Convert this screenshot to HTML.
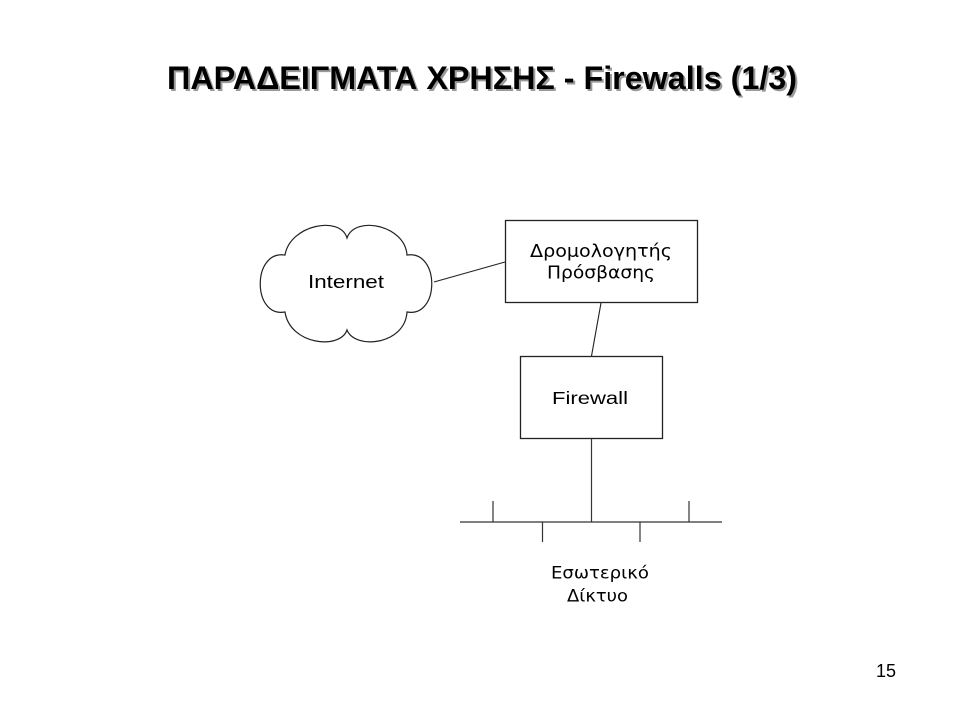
<!DOCTYPE html>
<html>
<head>
<meta charset="utf-8">
<style>
  html, body { margin: 0; padding: 0; background: #ffffff; }
  body { width: 960px; height: 720px; overflow: hidden; }
  svg { display: block; }
  .title { font-family: "Liberation Sans", "DejaVu Sans", sans-serif; font-weight: bold; font-size: 32px; }
  .lab { font-family: "Liberation Sans", "DejaVu Sans", sans-serif; fill: #000; }
  .gr { font-family: "DejaVu Sans", "Liberation Sans", sans-serif; fill: #000; }
</style>
</head>
<body>
<svg width="960" height="720" viewBox="0 0 960 720" xmlns="http://www.w3.org/2000/svg">
  <rect x="0" y="0" width="960" height="720" fill="#ffffff"/>

  <!-- Title with shadow -->
  <text class="title" x="169" y="91" fill="#9a9a9a" textLength="630" lengthAdjust="spacingAndGlyphs">ΠΑΡΑΔΕΙΓΜΑΤΑ ΧΡΗΣΗΣ - Firewalls (1/3)</text>
  <text class="title" x="167" y="89" fill="#000000" textLength="630" lengthAdjust="spacingAndGlyphs">ΠΑΡΑΔΕΙΓΜΑΤΑ ΧΡΗΣΗΣ - Firewalls (1/3)</text>

  <!-- Cloud -->
  <path d="M 285,255
           C 290,225 340,215 347,238
           C 355,215 405,225 407,255
           C 440,250 440,318 407,312
           C 405,345 355,350 347,330
           C 340,350 290,345 285,312
           C 252,318 252,250 285,255 Z"
        fill="#ffffff" stroke="#222" stroke-width="1.2"/>
  <text class="lab" x="308" y="288" font-size="18.5" textLength="76" lengthAdjust="spacingAndGlyphs">Internet</text>

  <!-- Internet to router line -->
  <line x1="434" y1="282" x2="505" y2="262" stroke="#222" stroke-width="1.1"/>

  <!-- Router box -->
  <rect x="505.5" y="220.5" width="192" height="82" fill="#ffffff" stroke="#222" stroke-width="1.3"/>
  <text class="gr" x="530" y="257" font-size="18" textLength="142" lengthAdjust="spacingAndGlyphs">Δρομολογητής</text>
  <text class="gr" x="547" y="278.5" font-size="18" textLength="108" lengthAdjust="spacingAndGlyphs">Πρόσβασης</text>

  <!-- Router to firewall line -->
  <line x1="601" y1="303" x2="591.5" y2="356" stroke="#222" stroke-width="1.1"/>

  <!-- Firewall box -->
  <rect x="520.5" y="356.5" width="142" height="82" fill="#ffffff" stroke="#222" stroke-width="1.3"/>
  <text class="lab" x="552" y="404" font-size="17.5" textLength="76" lengthAdjust="spacingAndGlyphs">Firewall</text>

  <!-- Firewall down to bus -->
  <line x1="591.5" y1="439" x2="591.5" y2="522" stroke="#333" stroke-width="1.2"/>

  <!-- Bus -->
  <line x1="460" y1="522" x2="722" y2="522" stroke="#333" stroke-width="1.2"/>
  <line x1="493" y1="501" x2="493" y2="522" stroke="#333" stroke-width="1.2"/>
  <line x1="689" y1="501" x2="689" y2="522" stroke="#333" stroke-width="1.2"/>
  <line x1="542.5" y1="522" x2="542.5" y2="542" stroke="#333" stroke-width="1.2"/>
  <line x1="640" y1="522" x2="640" y2="542" stroke="#333" stroke-width="1.2"/>

  <!-- Internal network label -->
  <text class="gr" x="551" y="578.5" font-size="17" textLength="98" lengthAdjust="spacingAndGlyphs">Εσωτερικό</text>
  <text class="gr" x="567" y="601.5" font-size="17" textLength="61" lengthAdjust="spacingAndGlyphs">Δίκτυο</text>

  <!-- Page number -->
  <text class="lab" x="876" y="677" font-size="18" fill="#000">15</text>
</svg>
</body>
</html>
